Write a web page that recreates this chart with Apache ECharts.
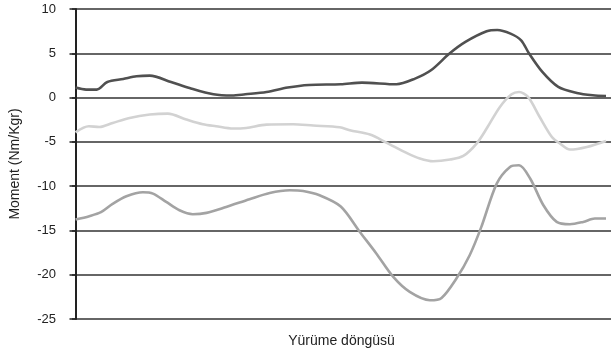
<!DOCTYPE html>
<html>
<head>
<meta charset="utf-8">
<script src="https://cdn.jsdelivr.net/npm/echarts@6/dist/echarts.min.js"></script>
<style>html,body{margin:0;padding:0;background:#fff;}#c{width:611px;height:358px;}</style>
</head>
<body>
<div id="c"></div>
<script>
// Gait cycle (%) positions and moment values (Nm/Kgr) for each curve
const darkX = [0,2,4,6,9,11.5,14,18,21.5,26,29.5,32,36,40,44,50,54,60.5,64,67,70.5,73.5,77.5,79.5,82,84,85.5,88,91,94.5,97.5,100];
const darkY = [1.13,0.9,0.9,1.76,2.1,2.4,2.48,1.76,1.08,0.37,0.23,0.37,0.63,1.13,1.42,1.5,1.69,1.5,2.14,3.08,4.97,6.28,7.48,7.63,7.22,6.47,4.97,2.89,1.2,0.52,0.26,0.18];

const lightX = [0,2.5,4.5,7,10.2,14,17.4,20.9,24,26.5,29.7,32.2,36,41,44.8,49.8,51.7,55.5,58.6,62.4,64.9,67.4,70.6,73.1,75.6,77.5,80,82.2,83.6,85.3,87.5,89.8,91.3,93.2,96.4,100];
const lightY = [-3.92,-3.24,-3.32,-2.87,-2.3,-1.92,-1.81,-2.48,-3.01,-3.24,-3.5,-3.43,-3.05,-3.01,-3.16,-3.35,-3.69,-4.18,-5.08,-6.25,-6.88,-7.19,-7.0,-6.59,-5.19,-3.5,-1.06,0.37,0.63,0.07,-2.19,-4.45,-5.19,-5.87,-5.58,-4.9];

const midX = [0,2.6,4.8,7,9.6,12.7,14.6,17.1,19.6,22.1,24.7,28.4,32.8,36.6,40.4,42.9,46,50,53.6,56.7,59.9,63,66.8,69,71.8,74.3,76.5,79.4,81.9,83.6,85.7,88.2,90.7,93.2,95.7,97.9,100];
const midY = [-13.77,-13.39,-12.94,-12.0,-11.14,-10.69,-10.84,-11.78,-12.72,-13.17,-13.02,-12.35,-11.48,-10.77,-10.47,-10.55,-11.03,-12.3,-15.17,-17.6,-20.25,-21.94,-22.88,-22.62,-20.43,-17.8,-14.6,-9.71,-7.83,-7.64,-9.14,-12.16,-14.04,-14.3,-14.04,-13.66,-13.66];

const yTicks = {min: -25, max: 10, step: 5};
const yName = 'Moment (Nm/Kgr)';
const xName = 'Yürüme döngüsü';

function pairs(xs, ys) { return xs.map((x, i) => [x, ys[i]]); }

const chart = echarts.init(document.getElementById('c'), null, {renderer: 'canvas'});
const font = 'Liberation Sans, Arial, Helvetica, sans-serif';
function line(xs, ys, color) {
  return {
    type: 'line', data: pairs(xs, ys), showSymbol: false, smooth: 0.3,
    lineStyle: {color: color, width: 2.6}, animation: false
  };
}
chart.setOption({
  animation: false,
  grid: {left: 72, right: 0, top: 9, bottom: 39},
  xAxis: {
    type: 'value', min: -0.66, max: 100.94,
    name: xName, nameLocation: 'middle', nameGap: 15,
    nameTextStyle: {fontFamily: font, fontSize: 14, color: '#222', verticalAlign: 'top'},
    axisLine: {show: false}, axisTick: {show: false}, axisLabel: {show: false}, splitLine: {show: false}
  },
  yAxis: {
    type: 'value', min: yTicks.min, max: yTicks.max, interval: yTicks.step,
    name: yName, nameLocation: 'middle', nameGap: 50, nameRotate: 90,
    nameTextStyle: {fontFamily: font, fontSize: 14, color: '#222'},
    axisLine: {show: true, lineStyle: {color: '#222', width: 2}},
    axisTick: {show: true, length: 6, lineStyle: {color: '#222', width: 1.5}},
    axisLabel: {fontFamily: font, fontSize: 13, color: '#222', margin: 16},
    splitLine: {show: true, lineStyle: {color: '#333', width: 1.6}}
  },
  series: [
    line(lightX, lightY, '#d2d2d2'),
    line(midX, midY, '#a3a3a3'),
    line(darkX, darkY, '#505050')
  ]
});
</script>
</body>
</html>
